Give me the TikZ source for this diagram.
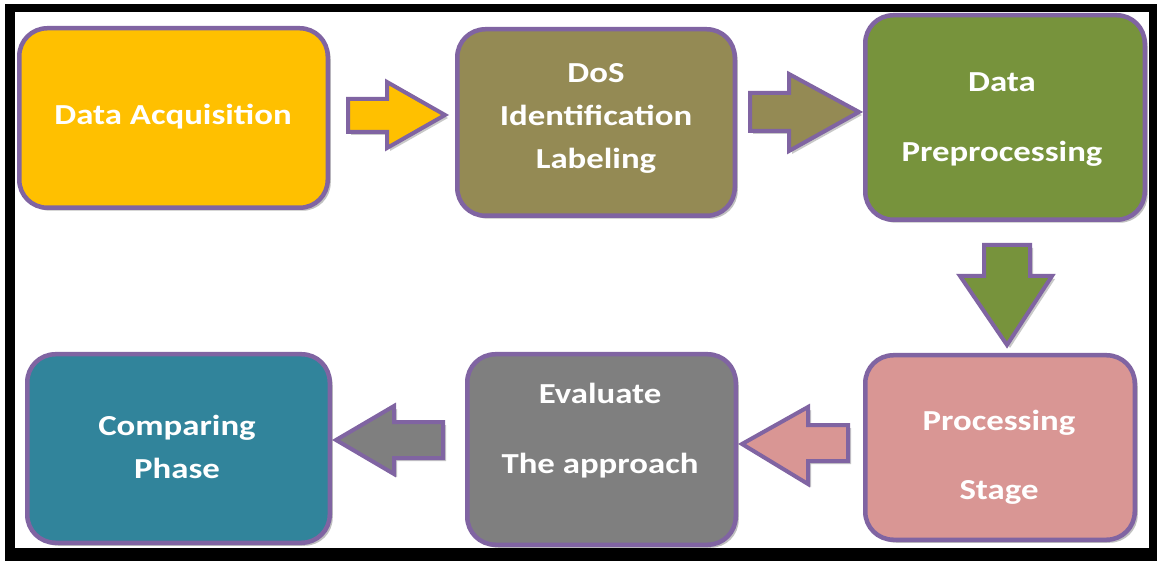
\documentclass[tikz,border=0pt]{standalone}
\usepackage{fontspec}
\newfontfamily\lab[FakeStretch=1.2]{Carlito}
\usetikzlibrary{shadows}
\definecolor{bord}{HTML}{8064A2}
\definecolor{cyellow}{HTML}{FFC000}
\definecolor{colive}{HTML}{948A54}
\definecolor{cgreen}{HTML}{77933C}
\definecolor{cpink}{HTML}{D99694}
\definecolor{cgrey}{HTML}{7F7F7F}
\definecolor{cteal}{HTML}{31849B}
\tikzset{
  box/.style={rectangle, rounded corners=28pt, draw=bord, line width=4.5pt,
    inner sep=0pt,
    drop shadow={shadow xshift=3pt, shadow yshift=-3pt, opacity=0.35, fill=black!70}},
  blk/.style={draw=bord, line width=4pt, line join=miter,
    drop shadow={shadow xshift=3pt, shadow yshift=-3pt, opacity=0.3, fill=black!70}},
  lbl/.style={text=white, font=\lab\bfseries\fontsize{29}{43}\selectfont, align=center, inner sep=0pt}
}
\begin{document}
\begin{tikzpicture}[x=1pt,y=-1pt]
\useasboundingbox (0,0) rectangle (1157,561);
\fill[white] (0,0) rectangle (1157,561);
% frame
\fill[black] (5,4) rectangle (1157,561);
\fill[white] (15,12) rectangle (1149,548);
% boxes
\node[box, fill=cyellow, minimum width=308.5pt, minimum height=179.5pt] (b1) at (173.5,118) {};
\node[box, fill=colive, minimum width=277.5pt, minimum height=186.5pt] (b2) at (596,122.5) {};
\node[box, fill=cgreen, minimum width=279.5pt, minimum height=204.5pt] (b3) at (1005,117.5) {};
\node[box, fill=cpink, minimum width=269.5pt, minimum height=184.5pt] (b4) at (1000,447.5) {};
\node[box, fill=cgrey, minimum width=268.5pt, minimum height=190.5pt] (b5) at (601.5,449.5) {};
\node[box, fill=cteal, minimum width=302.5pt, minimum height=188.5pt] (b6) at (178.5,448.5) {};
% labels
\node[lbl] (t1) at (173,117) {Data Acquisition};
\node[lbl] (t2) at (596,118) {DoS\\Identification\\Labeling};
\node[lbl] (t3) at (1002,120) {Data\\[27pt]Preprocessing};
\node[lbl] (t4) at (999,457) {Processing\\[26pt]Stage};
\node[lbl] (t5) at (600,431) {Evaluate\\[27pt]The approach};
\node[lbl] (t6) at (177,447) {Comparing\\Phase};
% block arrows
\draw[blk, fill=cyellow] (348,99) -- (387,99) -- (387,82) -- (445,115) -- (387,148) -- (387,132) -- (348,132) -- cycle;
\draw[blk, fill=colive] (750,93) -- (789,93) -- (789,74) -- (859,112) -- (789,151) -- (789,131) -- (750,131) -- cycle;
\draw[blk, fill=cgreen] (984,245) -- (1030,245) -- (1030,276) -- (1052,276) -- (1007,345) -- (960,276) -- (984,276) -- cycle;
\draw[blk, fill=cpink] (742,444) -- (808,407) -- (808,425) -- (848,425) -- (848,461) -- (808,461) -- (808,484) -- cycle;
\draw[blk, fill=cgrey] (336,440) -- (394,406) -- (394,422) -- (443,422) -- (443,458) -- (394,458) -- (394,474) -- cycle;
\end{tikzpicture}
\end{document}
